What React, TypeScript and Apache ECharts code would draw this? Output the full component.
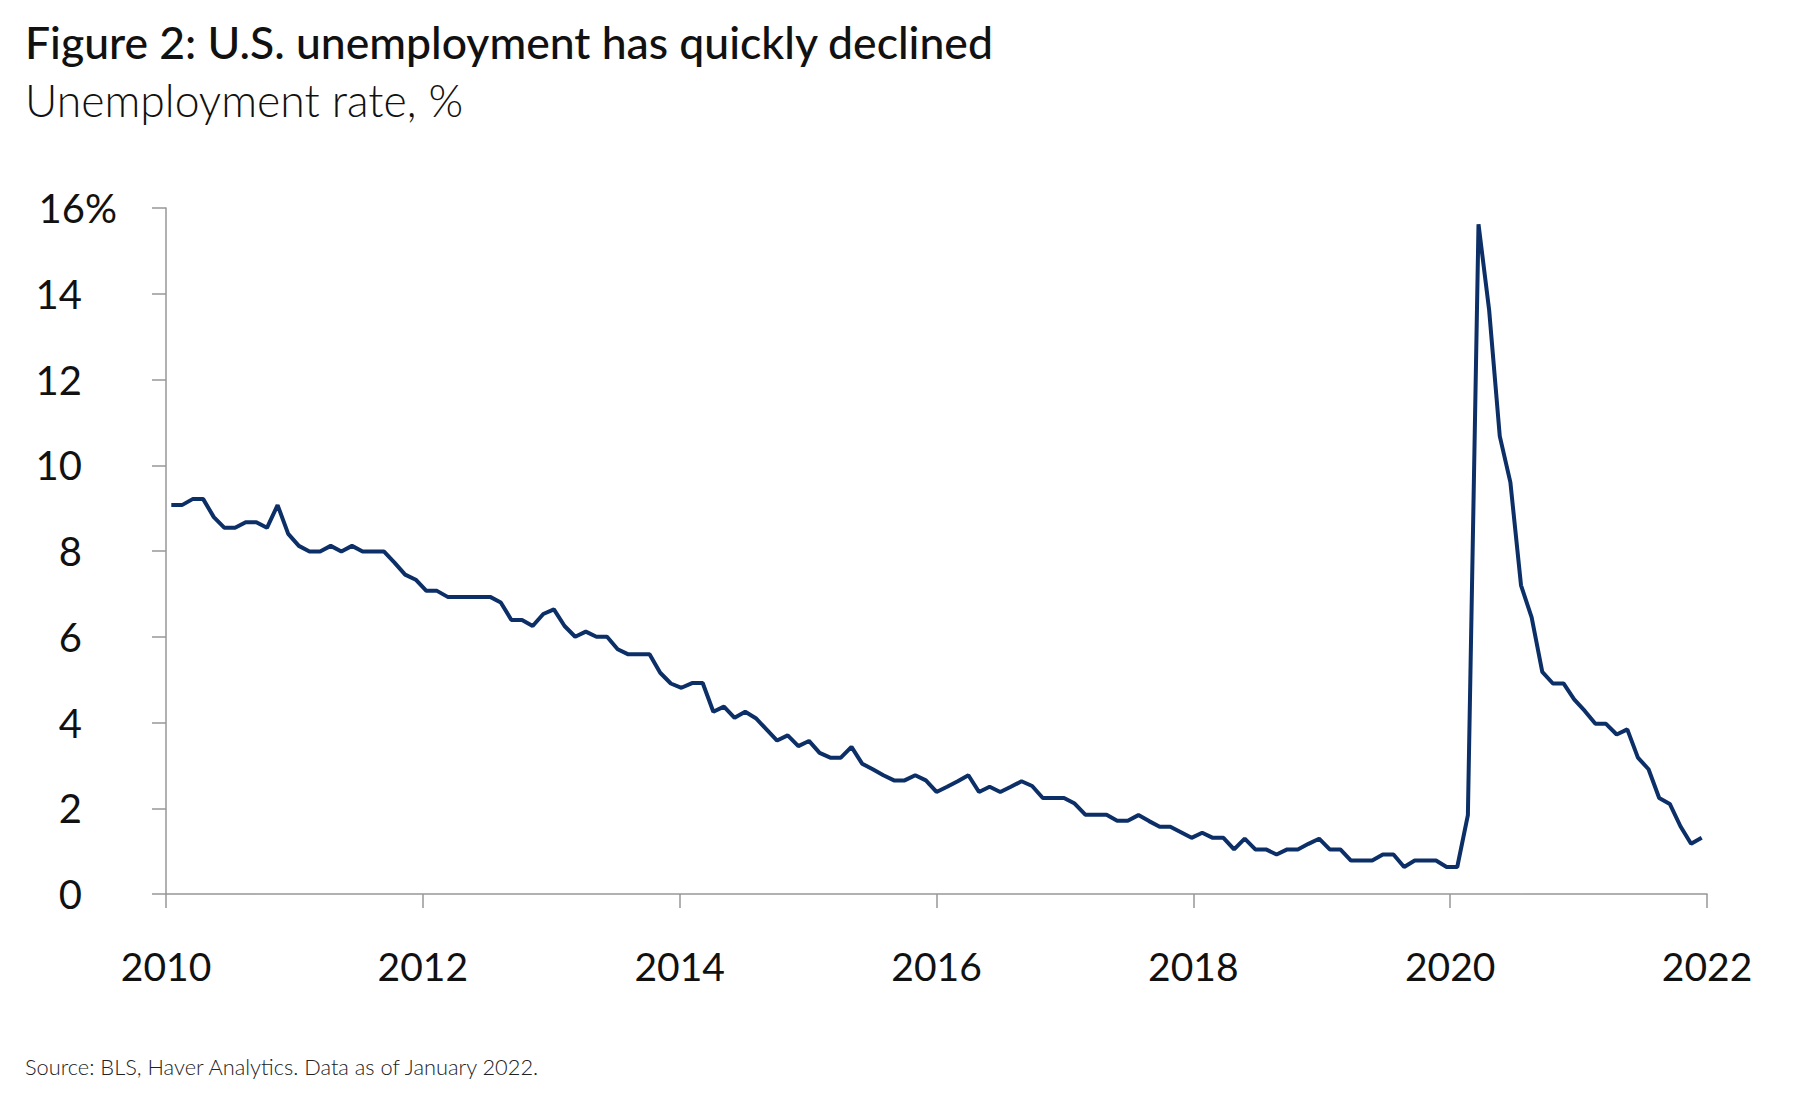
import React, { useEffect, useRef } from "react";
import * as echarts from "echarts";

// Unemployment rate (%) as drawn in the reference, monthly Jan 2010 – Jan 2022
const rate2010 = [9.07, 9.07, 9.21, 9.21, 8.79, 8.54, 8.54, 8.67, 8.67, 8.54, 9.07, 8.4];
const rate2011 = [8.12, 7.99, 7.99, 8.12, 7.99, 8.12, 7.99, 7.99, 7.99, 7.73, 7.45, 7.33];
const rate2012 = [7.07, 7.07, 6.93, 6.93, 6.93, 6.93, 6.93, 6.8, 6.39, 6.39, 6.25, 6.53];
const rate2013 = [6.64, 6.25, 6.0, 6.12, 6.0, 6.0, 5.71, 5.59, 5.59, 5.59, 5.16, 4.91];
const rate2014 = [4.81, 4.92, 4.92, 4.25, 4.37, 4.11, 4.25, 4.1, 3.84, 3.58, 3.7, 3.45];
const rate2015 = [3.57, 3.29, 3.18, 3.18, 3.43, 3.04, 2.91, 2.77, 2.65, 2.65, 2.77, 2.65];
const rate2016 = [2.38, 2.5, 2.63, 2.77, 2.38, 2.5, 2.38, 2.5, 2.63, 2.52, 2.24, 2.24];
const rate2017 = [2.24, 2.11, 1.85, 1.85, 1.85, 1.71, 1.71, 1.84, 1.7, 1.57, 1.57, 1.44];
const rate2018 = [1.31, 1.43, 1.31, 1.31, 1.04, 1.29, 1.04, 1.04, 0.92, 1.04, 1.04, 1.17];
const rate2019 = [1.29, 1.04, 1.04, 0.78, 0.78, 0.78, 0.92, 0.92, 0.63, 0.78, 0.78, 0.78];
const rate2020 = [0.63, 0.63, 1.84, 15.62, 13.62, 10.68, 9.6, 7.2, 6.45, 5.18, 4.91, 4.91];
const rate2021 = [4.54, 4.27, 3.97, 3.97, 3.72, 3.84, 3.18, 2.91, 2.24, 2.1, 1.58, 1.17];
const rate2022 = [1.31];

const yearlyRates = [
  rate2010, rate2011, rate2012, rate2013, rate2014, rate2015,
  rate2016, rate2017, rate2018, rate2019, rate2020, rate2021, rate2022,
];
const firstYear = 2010;

// Month categories
const monthLabels: string[] = [];
yearlyRates.forEach((arr, yi) => {
  arr.forEach((_, mi) => {
    monthLabels.push(`${firstYear + yi}-${String(mi + 1).padStart(2, "0")}`);
  });
});
const rateValues: number[] = yearlyRates.flat();

// Axis ticks
const yearTickMin = 2010;
const yearTickMax = 2022;
const yearTickStep = 2;
const yMin = 0;
const yMax = 16;
const yStep = 2;

const titleText = "Figure 2: U.S. unemployment has quickly declined";
const subtitleText = "Unemployment rate, %";
const sourceText = "Source: BLS, Haver Analytics. Data as of January 2022.";

const FONT = "Lato, 'Open Sans', 'Noto Sans', sans-serif";
const LINE_COLOR = "#0b2f66";
const AXIS_COLOR = "#979797";

export default function App() {
  const ref = useRef<HTMLDivElement>(null);

  useEffect(() => {
    if (!ref.current) return;
    const chart = echarts.init(ref.current, null, { renderer: "svg" });
    chart.setOption({
      animation: false,
      backgroundColor: "#ffffff",
      grid: { left: 166, right: 93, top: 208, bottom: 206, containLabel: false },
      graphic: [
        {
          type: "text",
          x: 25,
          y: 41.5,
          style: {
            text: titleText,
            fontSize: 44.5,
            fontWeight: 500,
            fontFamily: FONT,
            fill: "#111111",
            verticalAlign: "middle",
          },
        },
        {
          type: "text",
          x: 25,
          y: 99.5,
          style: {
            text: subtitleText,
            fontSize: 44.5,
            fontWeight: 300,
            fontFamily: FONT,
            fill: "#111111",
            verticalAlign: "middle",
          },
        },
        {
          type: "text",
          x: 25,
          y: 1066,
          style: {
            text: sourceText,
            fontSize: 21.8,
            fontWeight: 300,
            fontFamily: FONT,
            fill: "#222222",
            verticalAlign: "middle",
          },
        },
      ],
      xAxis: [
        {
          type: "category",
          data: monthLabels,
          boundaryGap: true,
          show: false,
        },
        {
          type: "value",
          position: "bottom",
          min: yearTickMin,
          max: yearTickMax,
          interval: yearTickStep,
          axisLine: { show: true, lineStyle: { color: AXIS_COLOR, width: 1.5 } },
          axisTick: { show: true, length: 14, lineStyle: { color: AXIS_COLOR, width: 1.5 } },
          splitLine: { show: false },
          axisLabel: {
            margin: 52,
            fontSize: 39,
            fontFamily: FONT,
            color: "#111111",
            formatter: (v: number) => String(v),
          },
        },
      ],
      yAxis: {
        type: "value",
        min: yMin,
        max: yMax,
        interval: yStep,
        axisLine: { show: true, lineStyle: { color: AXIS_COLOR, width: 1.5 } },
        axisTick: { show: true, length: 14, lineStyle: { color: AXIS_COLOR, width: 1.5 } },
        splitLine: { show: false },
        axisLabel: {
          margin: 49,
          align: "right",
          formatter: (v: number) => (v === yMax ? `{n|${v}}{p|%}` : `{n|${v}}{h| }`),
          rich: {
            n: { fontSize: 40, fontFamily: FONT, color: "#111111" },
            p: { fontSize: 40, fontFamily: FONT, color: "#111111" },
            h: { fontSize: 40, fontFamily: FONT, width: 35 },
          },
        },
      },
      series: [
        {
          type: "line",
          xAxisIndex: 0,
          data: rateValues,
          showSymbol: false,
          symbol: "none",
          lineStyle: { color: LINE_COLOR, width: 4 },
          itemStyle: { color: LINE_COLOR },
        },
      ],
    });
    return () => chart.dispose();
  }, []);

  return (
    <div
      ref={ref}
      style={{ position: "absolute", left: 0, top: 0, width: 1800, height: 1100 }}
    />
  );
}
